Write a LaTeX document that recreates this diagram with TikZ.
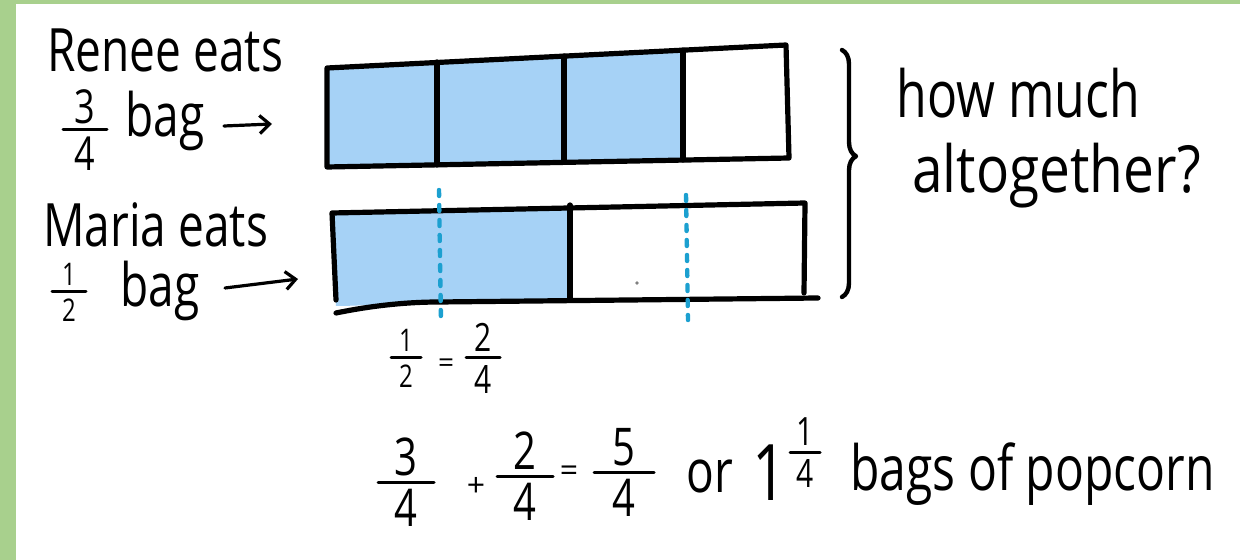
\documentclass[tikz,border=0pt]{standalone}
\usepackage{fontspec}
\setmainfont{Open Sans}
\usetikzlibrary{arrows.meta,decorations.pathreplacing}
\definecolor{bordergreen}{RGB}{168,208,141}
\definecolor{barblue}{RGB}{166,210,246}
\definecolor{dotblue}{RGB}{28,160,208}
\newcommand{\hw}[1]{\scalebox{1}[1.3]{#1}}
\newcommand{\hwx}[1]{\scalebox{1.1}[1.3]{#1}}
% fraction: name, x centre, bar y, half bar width, numerator, denominator, font size (pt)
\newcommand{\frc}[7]{%
  \node[fnum, anchor=south, font=\fontsize{#7}{#7}\selectfont] (#1n) at (#2,#3-6) {\hw{#5}};
  \node[fnum, anchor=north, font=\fontsize{#7}{#7}\selectfont] (#1d) at (#2,#3+7) {\hw{#6}};
  \draw[fbar] (#2-#4,#3) -- (#2+#4,#3);}
\begin{document}
\begin{tikzpicture}[x=0.5pt,y=-0.5pt, line cap=round, line join=round,
  txt/.style={inner sep=0, anchor=base west, font=\fontsize{23}{28}\selectfont},
  bigtxt/.style={inner sep=0, anchor=base west, font=\fontsize{25}{30}\selectfont},
  fnum/.style={inner sep=0},
  fbar/.style={line width=1.5pt},
  ink/.style={line width=2.6pt},
  arr/.style={line width=1.6pt, -{Straight Barb[length=5pt,width=9pt,line width=1.6pt]}},
  dots/.style={dotblue, line width=2.2pt, dash pattern=on 3pt off 4.5pt}]
\useasboundingbox (0,0) rectangle (1240,560);
\fill[bordergreen] (0,0) rectangle (1240,560);
\fill[white] (16,4) rectangle (1240,560);

% ---------- left labels ----------
\node[txt] (renee) at (47,72) {\hw{Renee eats}};
\frc{f34}{85}{130}{22}{3}{4}{18}
\node[txt] (bag1) at (125,137) {\hw{bag}};
\coordinate (a1s) at (224,126);
\coordinate (a1e) at (272,124);
\draw[arr] (a1s) -- (a1e);

\node[txt] (maria) at (43,247) {\hw{Maria eats}};
\frc{f12}{69}{292}{17}{1}{2}{12}
\node[txt] (bag2) at (120,307) {\hw{bag}};
\coordinate (a2s) at (225,288);
\coordinate (a2e) at (298,279);
\draw[arr] (a2s) -- (a2e);

% ---------- top bar (3/4) ----------
\fill[barblue] (327,68) -- (683,50) -- (683,160) -- (327,167) -- cycle;
\draw[ink] (327,68) -- (786,45) -- (789,158) -- (327,167) -- cycle;
\draw[ink] (437,62) -- (437,165);
\draw[ink] (564,56) -- (564,162);
\draw[ink] (683,50) -- (683,160);

% ---------- bottom bar (1/2) ----------
\fill[barblue] (333,213) -- (570,206) -- (570,299) -- (439,302) .. controls (400,303) and (360,306) .. (336,306) -- cycle;
\draw[ink] (336,300) -- (332,213) -- (805,203) -- (804,293);
\draw[ink] (570,205) -- (570,299);
\draw[ink] (336,313) .. controls (370,306) and (405,302) .. (439,302) -- (818,298);
\fill[gray] (637,283) circle (1.8);

% dotted lines
\draw[dots] (439,190) -- (441,323);
\draw[dots] (686,195) -- (688,320);

% ---------- brace ----------
\draw[line width=2.2pt, decorate, decoration={brace, amplitude=7pt, aspect=0.43}] (842,50) -- (842,297);

% ---------- question ----------
\node[bigtxt] (how) at (896,118) {\hw{how much}};
\node[bigtxt] (alt) at (912,193) {\hwx{altogether?}};

% ---------- 1/2 = 2/4 ----------
\frc{e12}{406}{358}{15}{1}{2}{12}
\node[fnum, font=\fontsize{14}{14}\selectfont] (eq1) at (446,366) {=};
\frc{e24}{483}{358}{17}{2}{4}{15}

% ---------- bottom equation ----------
\frc{b34}{406}{482}{28}{3}{4}{20}
\node[fnum, font=\fontsize{16}{16}\selectfont] (plus) at (476,487) {+};
\frc{b24}{525}{476}{28}{2}{4}{20}
\node[fnum, font=\fontsize{16}{16}\selectfont] (eq2) at (569,474) {=};
\frc{b54}{624}{472}{30}{5}{4}{20}
\node[txt] (or) at (686,492) {\hw{or}};
\node[txt, font=\fontsize{30}{30}\selectfont] (one) at (752,500) {\hw{1}};
\frc{b14}{805}{452}{15}{1}{4}{15}
\node[txt, font=\fontsize{24}{28}\selectfont] (bags) at (850,490) {\hw{bags of popcorn}};
\end{tikzpicture}
\end{document}
